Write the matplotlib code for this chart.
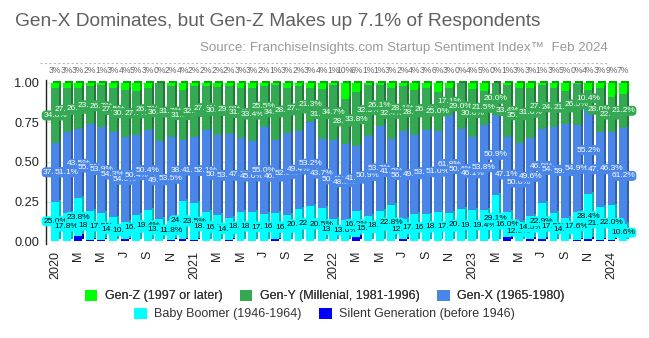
import matplotlib
matplotlib.use('Agg')
import matplotlib.pyplot as plt
from matplotlib.lines import Line2D
from matplotlib.patches import Patch
import numpy as np

plt.rcParams['font.family'] = ['Liberation Sans', 'DejaVu Sans']

years = ['2020', '2021', '2022', '2023', '2024']
month_letters = ['', 'M', 'M', 'J', 'S', 'N']

silent = [0.0, 0.2, 3.3, 0.5, 0.5, 0.3, 1.0, 0.3, 0.3, 0.3,
          0.8, 1.0, 0.5, 0.3, 0.3, 0.5, 0.3, 0.3, 0.3, 1.0,
          0.3, 0.3, 0.3, 0.3, 0.3, 0.3, 2.5, 0.3, 0.3, 0.3,
          1.5, 0.3, 0.3, 0.3, 0.3, 0.3, 0.3, 0.3, 0.0, 2.5,
          0.0, 1.3, 1.1, 0.3, 0.3, 0.6, 1.5, 0.5, 0.5, 0.0]
boomer = [25.0, 17.8, 23.8, 18.3, 17.5, 14.6, 10.8, 16.2, 19.4, 13.5,
          11.8, 24.3, 23.5, 18.0, 16.3, 14.0, 18.0, 18.0, 17.0, 16.5,
          16.2, 20.2, 22.0, 20.5, 13.5, 13.0, 16.2, 15.4, 18.8, 22.8,
          12.2, 17.1, 16.5, 18.1, 17.5, 20.0, 19.5, 19.4, 29.1, 16.0,
          12.0, 14.5, 22.9, 17.5, 14.5, 17.6, 28.4, 21.3, 22.0, 10.6]
genx = [37.0, 51.1, 43.5, 55.2, 53.9, 54.3, 54.0, 50.4, 50.4, 49.2,
        53.5, 38.5, 41.6, 52.1, 50.4, 53.5, 47.0, 45.0, 55.0, 46.5,
        52.0, 49.4, 53.2, 43.7, 50.4, 48.0, 41.5, 50.9, 53.7, 41.2,
        56.0, 49.8, 53.5, 51.0, 61.8, 50.4, 46.1, 53.8, 50.9, 47.1,
        50.0, 49.6, 46.9, 54.5, 59.0, 54.9, 55.2, 47.2, 46.3, 61.2]
geny = [34.8, 27.6, 26.1, 23.8, 26.7, 27.5, 30.0, 27.7, 26.7, 36.7,
        31.7, 31.8, 32.2, 27.4, 30.6, 29.8, 31.4, 33.4, 25.5, 34.8,
        28.2, 27.9, 21.3, 31.5, 34.7, 28.7, 33.8, 32.3, 26.1, 32.4,
        28.1, 28.4, 26.4, 25.0, 17.1, 29.0, 30.0, 21.5, 20.0, 33.4,
        35.0, 31.6, 27.9, 24.5, 21.4, 26.5, 10.4, 28.0, 22.4, 21.2]
genz = [3.2, 3.3, 3.3, 2.2, 1.4, 3.3, 4.2, 5.4, 3.2, 0.3,
        2.2, 4.4, 2.2, 2.2, 2.4, 2.2, 3.3, 3.3, 2.2, 1.2,
        3.3, 2.2, 3.2, 4.0, 1.1, 10.0, 6.0, 1.1, 1.1, 3.3,
        2.2, 4.4, 3.3, 5.6, 3.3, 0.3, 4.1, 5.0, 0.0, 1.0,
        3.0, 3.0, 1.2, 3.2, 4.8, 0.4, 4.5, 3.0, 8.8, 7.0]

series_names = ['Silent Generation (before 1946)', 'Baby Boomer (1946-1964)',
                'Gen-X (1965-1980)', 'Gen-Y (Millenial, 1981-1996)', 'Gen-Z (1997 or later)']
front_colors = ['#0000FF', '#00FFFF', '#4A86E8', '#34A853', '#00FF00']
side_colors = ['#0000A8', '#00B8B8', '#345FA8', '#237538', '#00B000']
label_text_colors = [None, '#000000', '#FFFFFF', '#FFFFFF', None]

data = [np.array(s) / 100.0 for s in (silent, boomer, genx, geny, genz)]
n = len(silent)
x = np.arange(n)

fig = plt.figure(figsize=(6.49, 3.38), dpi=100)
ax = fig.add_axes([46 / 649, 0.2822, (630 - 46) / 649, 0.4817])

bw = 0.68
dx = 0.17
dy = 0.012

for gy in [0.25, 0.5, 0.75, 1.0]:
    ax.axhline(gy, color='#DDDDDD', lw=0.8, zorder=0)

bottom = np.zeros(n)
for vals, sc in zip(data, side_colors):
    ax.bar(x + dx, vals, width=bw, bottom=bottom + dy, color=sc, zorder=1, linewidth=0)
    bottom = bottom + vals
bottom = np.zeros(n)
bottoms = []
for vals, fc in zip(data, front_colors):
    bottoms.append(bottom.copy())
    ax.bar(x, vals, width=bw, bottom=bottom, color=fc, zorder=2, linewidth=0)
    bottom = bottom + vals

z = 5
for i in range(n):
    for li in [3, 2, 1]:
        v = data[li][i]
        yc = bottoms[li][i] + v / 2
        ax.text(i, yc, f"{v*100:.1f}%", ha='center', va='center', fontsize=6.0,
                color=label_text_colors[li], zorder=z,
                bbox=dict(boxstyle='round,pad=0.18,rounding_size=0.5', fc=front_colors[li], ec='none'))
        z += 1
    ax.text(i, 1.076, f"{genz[i]:.0f}%", ha='center', va='center', fontsize=6.2,
            color='#666666', zorder=z, clip_on=False)

ax.set_xlim(-0.78, n - 1 + 0.6)
ax.set_ylim(-0.01, 1.02)
ax.set_yticks([0, 0.25, 0.5, 0.75, 1.0])
ax.set_yticklabels(['0.00', '0.25', '0.50', '0.75', '1.00'])

ticks = list(range(0, n, 2))
labels = []
for t in ticks:
    m = t % 12
    if m == 0:
        labels.append(years[t // 12])
    else:
        labels.append(month_letters[m // 2])
ax.set_xticks(ticks)
ax.set_xticklabels(labels, rotation=90, fontsize=9, color='#222222')
ax.tick_params(axis='x', length=0, pad=6)
ax.tick_params(axis='y', length=0, pad=5, labelsize=9.2, labelcolor='#222222')

for s in ['top', 'right', 'bottom']:
    ax.spines[s].set_visible(False)
ax.spines['left'].set_color('#222222')
ax.spines['left'].set_linewidth(1.0)
ax.spines['left'].set_bounds(-0.02, 1.02)

fig.text(15 / 649, 1 - 21 / 338, 'Gen-X Dominates, but Gen-Z Makes up 7.1% of Respondents',
         fontsize=13.8, color='#5F5F5F', va='center', ha='left')
fig.text(608 / 649, 1 - 48 / 338,
         'Source: FranchiseInsights.com Startup Sentiment Index\u2122  Feb 2024',
         fontsize=9.6, color='#9A9A9A', va='center', ha='right')
fig.add_artist(Line2D([40 / 649, 608 / 649], [1 - 63 / 338, 1 - 63 / 338],
                      transform=fig.transFigure, color='#BBBBBB', lw=0.8, ls=(0, (2, 2))))

def handles(idx):
    return [Patch(facecolor=front_colors[k], edgecolor='none', label=series_names[k]) for k in idx]

leg1 = fig.legend(handles=handles([4, 3, 2]), loc='center', bbox_to_anchor=(0.5, 1 - 296 / 338),
                  ncol=3, frameon=False, fontsize=9, handlelength=1.0, handleheight=1.0,
                  handletextpad=0.6, columnspacing=1.4, labelcolor='#333333')
fig.add_artist(leg1)
leg2 = fig.legend(handles=handles([1, 0]), loc='center', bbox_to_anchor=(0.5, 1 - 314 / 338),
                  ncol=2, frameon=False, fontsize=9, handlelength=1.0, handleheight=1.0,
                  handletextpad=0.6, columnspacing=1.4, labelcolor='#333333')

fig.savefig('out.png', dpi=100)
